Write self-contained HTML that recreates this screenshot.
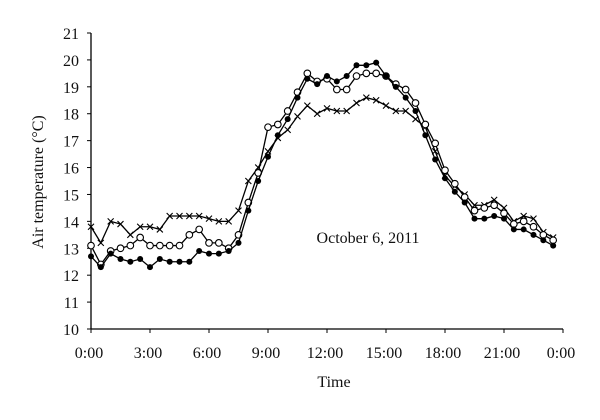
<!DOCTYPE html>
<html><head><meta charset="utf-8"><style>
body{margin:0;background:#fff}
svg text{font-family:"Liberation Serif",serif;font-size:16px;fill:#111}
</style></head><body>
<svg width="600" height="415" viewBox="0 0 600 415" xmlns="http://www.w3.org/2000/svg">
<g id="axes"></g><g id="series"></g>
<text transform="translate(43,182) rotate(-90)" text-anchor="middle">Air temperature (°C)</text>
<text x="334" y="387" text-anchor="middle">Time</text>
<text x="368" y="243" text-anchor="middle">October 6, 2011</text>
</svg>
<script>
const yTicks=[10,11,12,13,14,15,16,17,18,19,20,21];
const xTickLabels=["0:00","3:00","6:00","9:00","12:00","15:00","18:00","21:00","0:00"];
const filled=[12.7,12.3,12.8,12.6,12.5,12.6,12.3,12.6,12.5,12.5,12.5,12.9,12.8,12.8,12.9,13.2,14.4,15.5,16.4,17.2,17.8,18.6,19.3,19.1,19.4,19.2,19.4,19.8,19.8,19.9,19.4,19.0,18.6,18.1,17.2,16.3,15.6,15.1,14.7,14.1,14.1,14.2,14.1,13.7,13.7,13.5,13.3,13.1];
const open=[13.1,12.4,12.9,13.0,13.1,13.4,13.1,13.1,13.1,13.1,13.5,13.7,13.2,13.2,13.0,13.5,14.7,15.8,17.5,17.6,18.1,18.8,19.5,19.2,19.3,18.9,18.9,19.4,19.5,19.5,19.4,19.1,18.9,18.4,17.6,16.9,15.9,15.4,14.9,14.4,14.5,14.6,14.3,13.9,14.0,13.8,13.5,13.3];
const cross=[13.8,13.2,14.0,13.9,13.5,13.8,13.8,13.7,14.2,14.2,14.2,14.2,14.1,14.0,14.0,14.4,15.5,16.0,16.6,17.1,17.4,17.9,18.3,18.0,18.2,18.1,18.1,18.4,18.6,18.5,18.3,18.1,18.1,17.8,17.5,16.6,15.7,15.3,15.0,14.6,14.6,14.8,14.5,14.0,14.2,14.1,13.6,13.4];
const NS="http://www.w3.org/2000/svg";
const x0=91,x1=563,y0=329,y1=33;
const X=i=>x0+(x1-x0)*i/48;
const Y=v=>y0-(v-10)*(y0-y1)/11;
function mk(t,a,p){const e=document.createElementNS(NS,t);for(const k in a)e.setAttribute(k,a[k]);p.appendChild(e);return e;}
const ax=document.getElementById('axes');
let l=mk('line',{x1:x0,y1:y1,x2:x0,y2:y0,stroke:'#000','stroke-width':1.3},ax);


l=mk('line',{x1:x0,y1:y0,x2:x1,y2:y0,stroke:'#000','stroke-width':1.3},ax);


yTicks.forEach(v=>{mk('line',{x1:x0-4,x2:x0,y1:Y(v),y2:Y(v),stroke:'#000'},ax);
const t=mk('text',{x:x0-12,y:Y(v)+6,'text-anchor':'end'},ax);t.textContent=v;

});
xTickLabels.forEach((s,i)=>{const x=X(i*6);mk('line',{x1:x,x2:x,y1:y0,y2:y0+4,stroke:'#000'},ax);
const t=mk('text',{x:x-2,y:y0+29,'text-anchor':'middle'},ax);t.textContent=s;

});
const sg=document.getElementById('series');
function series(data,name,kind){const g=mk('g',{},sg);


mk('polyline',{points:data.map((v,i)=>X(i)+','+Y(v)).join(' '),fill:'none',stroke:'#000','stroke-width':1.3},g);
data.forEach((v,i)=>{const x=X(i),y=Y(v);
if(kind==='f')mk('circle',{cx:x,cy:y,r:3,fill:'#000'},g);
else if(kind==='o')mk('circle',{cx:x,cy:y,r:3.3,fill:'#fff',stroke:'#000','stroke-width':1.1},g);
else mk('path',{d:`M${x-3},${y-3}L${x+3},${y+3}M${x-3},${y+3}L${x+3},${y-3}`,stroke:'#000','stroke-width':1.1},g);});}
series(cross,'series-cross','x');
series(open,'series-open-circle','o');
series(filled,'series-filled-circle','f');
</script>
</body></html>
